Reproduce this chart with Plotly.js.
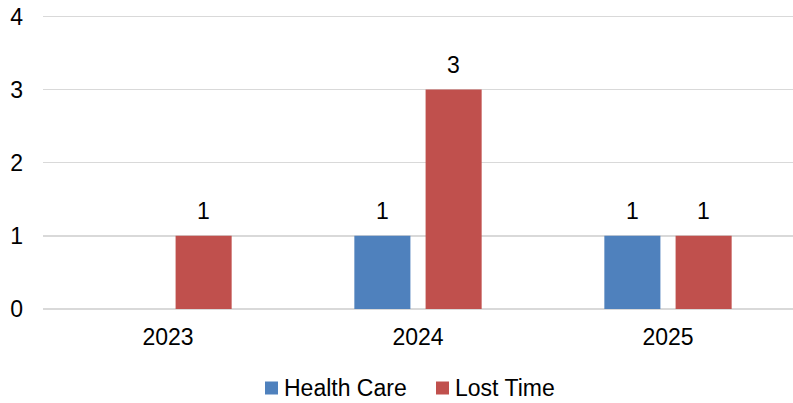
<!DOCTYPE html>
<html><head><meta charset="utf-8">
<script src="https://cdn.plot.ly/plotly-3.0.1.min.js"></script>
<style>html,body{margin:0;padding:0;background:#fff}#chart{width:793px;height:403px}</style>
</head><body><div id="chart"></div>
<script>
const categories = ["2023", "2024", "2025"];
const seriesNames = ["Health Care", "Lost Time"];
const healthCare = [null, 1, 1];
const lostTime = [1, 3, 1];
const yTicks = [0, 1, 2, 3, 4];
const colors = ["#4F81BD", "#C0504D"];

const font = {family: "Liberation Sans, Arial, sans-serif", size: 23, color: "#000"};
const seriesValues = [healthCare, lostTime];

const traces = seriesValues.map((vals, i) => ({
  type: "bar", name: seriesNames[i], x: categories, y: vals,
  marker: {color: colors[i]}, showlegend: false, hoverinfo: "skip"
}));

// plot geometry (pixels) used for legend & label offsets
const W = 793, H = 403, L = 43, R = 0, T = 15, B = 94;
const pw = W - L - R, ph = H - T - B;
const bargap = 0.43, bargroupgap = 0.213;
const catW = pw / categories.length;
const slot = catW * (1 - bargap) / seriesValues.length;

const annotations = [];
seriesValues.forEach((vals, i) => {
  const off = (i - (seriesValues.length - 1) / 2) * slot;
  vals.forEach((v, j) => {
    if (v === null) return;
    annotations.push({x: j, y: v, xref: "x", yref: "y", text: String(v),
      showarrow: false, xanchor: "center", yanchor: "bottom", xshift: off, yshift: 10, font: font});
  });
});

// custom legend
const shapes = [];
const legX = [265, 436];
seriesNames.forEach((n, i) => {
  const x0 = legX[i], sz = 13, yc = 388;
  shapes.push({type: "rect", xref: "paper", yref: "paper",
    x0: (x0 - L) / pw, x1: (x0 + sz - L) / pw,
    y0: (T + ph - (yc - sz / 2)) / ph, y1: (T + ph - (yc + sz / 2)) / ph,
    fillcolor: colors[i], line: {width: 0}});
  annotations.push({xref: "paper", yref: "paper", x: (x0 + sz + 5 - L) / pw, y: (T + ph - yc) / ph,
    text: n, showarrow: false, xanchor: "left", yanchor: "middle", font: font, borderpad: 0});
});

const layout = {
  width: W, height: H,
  margin: {l: L, r: R, t: T, b: B},
  paper_bgcolor: "#fff", plot_bgcolor: "#fff",
  font: font,
  barmode: "group", bargap: bargap, bargroupgap: bargroupgap,
  showlegend: false,
  annotations: annotations, shapes: shapes,
  xaxis: {type: "category", range: [-0.5, categories.length - 0.5], showgrid: false, showline: false,
          zeroline: false, ticks: "", ticklen: 0, tickfont: font, ticklabelstandoff: 12},
  yaxis: {range: [0, 4.02], tickvals: yTicks, ticktext: yTicks.map(String), showgrid: true,
          gridcolor: "#D9D9D9", gridwidth: 1.5, zeroline: true, zerolinecolor: "#D9D9D9", zerolinewidth: 1.5,
          showline: false, ticks: "", ticklen: 0, tickfont: font, ticklabelstandoff: 19}
};
Plotly.newPlot("chart", traces, layout, {displayModeBar: false, staticPlot: true});
</script></body></html>
